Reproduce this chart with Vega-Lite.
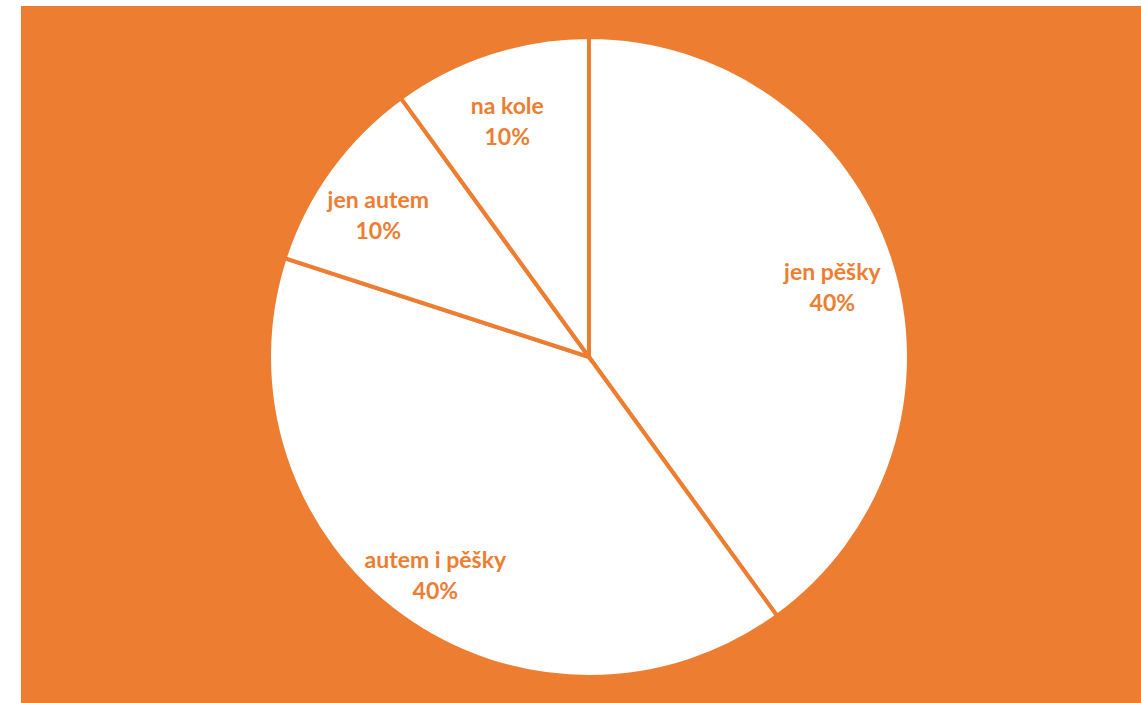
{
  "$schema": "https://vega.github.io/schema/vega-lite/v6.json",
  "width": 1141,
  "height": 703,
  "autosize": {"type": "fit", "contains": "padding"},
  "padding": {"left": 21, "top": 6, "right": 0, "bottom": 0},
  "background": "white",
  "config": {"view": {"stroke": null}},
  "data": {
    "values": [
      {"category": "jen pěšky", "share": 40, "order": 1},
      {"category": "autem i pěšky", "share": 40, "order": 2},
      {"category": "jen autem", "share": 10, "order": 3},
      {"category": "na kole", "share": 10, "order": 4}
    ]
  },
  "transform": [
    {"calculate": "[datum.category, datum.share + '%']", "as": "label"}
  ],
  "layer": [
    {
      "mark": {"type": "rect", "fill": "#ED7D31", "stroke": null}
    },
    {
      "mark": {"type": "arc", "outerRadius": 320, "fill": "white", "stroke": "#ED7D31", "strokeWidth": 4, "xOffset": 8, "yOffset": 2.5},
      "encoding": {
        "theta": {"field": "share", "type": "quantitative", "stack": true},
        "order": {"field": "order", "type": "quantitative"}
      }
    },
    {
      "mark": {"type": "text", "radius": 258, "font": "Lato", "fontWeight": "bold", "fontSize": 23, "lineHeight": 31, "color": "#ED7D31", "align": "center", "baseline": "middle", "xOffset": 6, "yOffset": -2},
      "encoding": {
        "theta": {"field": "share", "type": "quantitative", "stack": true},
        "order": {"field": "order", "type": "quantitative"},
        "text": {"field": "label"}
      }
    }
  ]
}
